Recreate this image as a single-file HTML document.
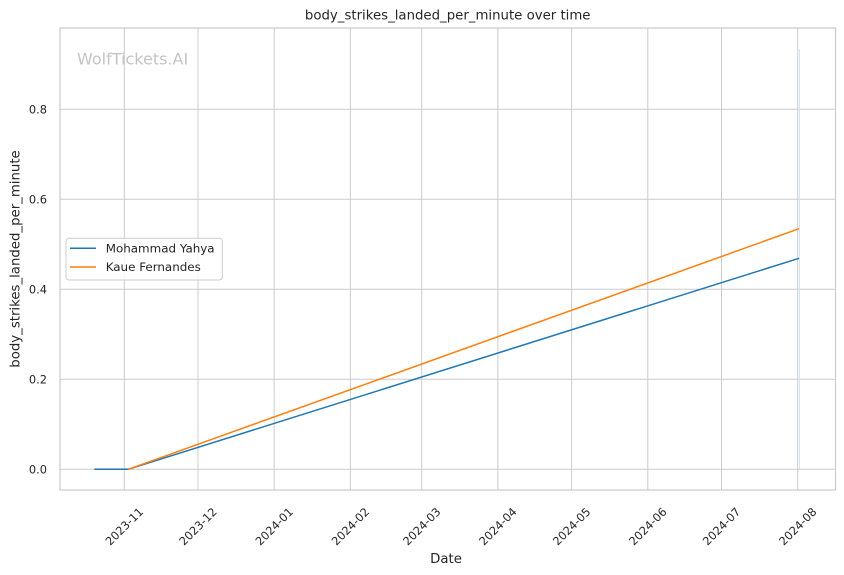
<!DOCTYPE html>
<html>
<head>
<meta charset="utf-8">
<style>
html,body{margin:0;padding:0;background:#fff;}
svg{display:block;}
text{font-family:"DejaVu Sans","Liberation Sans",sans-serif;fill:#262626;}
</style>
</head>
<body>
<svg width="844" height="575" viewBox="0 0 844 575" xmlns="http://www.w3.org/2000/svg">
<rect x="0" y="0" width="844" height="575" fill="#fff"/>
<!-- gridlines -->
<g stroke="#cccccc" stroke-width="1" fill="none">
<line x1="60" y1="109.3" x2="835.5" y2="109.3"/>
<line x1="60" y1="199.3" x2="835.5" y2="199.3"/>
<line x1="60" y1="289.3" x2="835.5" y2="289.3"/>
<line x1="60" y1="379.3" x2="835.5" y2="379.3"/>
<line x1="60" y1="469.3" x2="835.5" y2="469.3"/>
<line x1="124.3" y1="28" x2="124.3" y2="490"/>
<line x1="198.0" y1="28" x2="198.0" y2="490"/>
<line x1="274.2" y1="28" x2="274.2" y2="490"/>
<line x1="350.4" y1="28" x2="350.4" y2="490"/>
<line x1="421.7" y1="28" x2="421.7" y2="490"/>
<line x1="497.9" y1="28" x2="497.9" y2="490"/>
<line x1="571.6" y1="28" x2="571.6" y2="490"/>
<line x1="647.8" y1="28" x2="647.8" y2="490"/>
<line x1="721.5" y1="28" x2="721.5" y2="490"/>
<line x1="797.7" y1="28" x2="797.7" y2="490"/>
</g>
<!-- watermark -->
<text x="77" y="64.7" font-size="16" style="fill:#c4c4c4">WolfTickets.AI</text>
<!-- pale vertical line -->
<line x1="799.5" y1="49" x2="799.5" y2="469" stroke="#d4e5f3" stroke-width="1"/>
<!-- series -->
<polyline points="94.3,469.3 128.3,469.3 799,258.3" fill="none" stroke="#1f77b4" stroke-width="1.5"/>
<polyline points="128.3,469.3 799,228.7" fill="none" stroke="#ff7f0e" stroke-width="1.5"/>
<!-- spines -->
<rect x="60" y="28" width="775.5" height="462" fill="none" stroke="#cccccc" stroke-width="1.25"/>
<!-- y tick labels -->
<g font-size="11.4" text-anchor="end">
<text x="47" y="109.3" dominant-baseline="central">0.8</text>
<text x="47" y="199.3" dominant-baseline="central">0.6</text>
<text x="47" y="289.3" dominant-baseline="central">0.4</text>
<text x="47" y="379.3" dominant-baseline="central">0.2</text>
<text x="47" y="469.3" dominant-baseline="central">0.0</text>
</g>
<!-- x tick labels -->
<g font-size="11.4" text-anchor="middle">
<text x="124.3" y="526.5" dominant-baseline="central" transform="rotate(-45 124.3 526.5)">2023-11</text>
<text x="198.0" y="526.5" dominant-baseline="central" transform="rotate(-45 198.0 526.5)">2023-12</text>
<text x="274.2" y="526.5" dominant-baseline="central" transform="rotate(-45 274.2 526.5)">2024-01</text>
<text x="350.4" y="526.5" dominant-baseline="central" transform="rotate(-45 350.4 526.5)">2024-02</text>
<text x="421.7" y="526.5" dominant-baseline="central" transform="rotate(-45 421.7 526.5)">2024-03</text>
<text x="497.9" y="526.5" dominant-baseline="central" transform="rotate(-45 497.9 526.5)">2024-04</text>
<text x="571.6" y="526.5" dominant-baseline="central" transform="rotate(-45 571.6 526.5)">2024-05</text>
<text x="647.8" y="526.5" dominant-baseline="central" transform="rotate(-45 647.8 526.5)">2024-06</text>
<text x="721.5" y="526.5" dominant-baseline="central" transform="rotate(-45 721.5 526.5)">2024-07</text>
<text x="797.7" y="526.5" dominant-baseline="central" transform="rotate(-45 797.7 526.5)">2024-08</text>
</g>
<!-- axis labels & title -->
<text x="446" y="563" font-size="13.3" text-anchor="middle">Date</text>
<text x="16" y="259" font-size="13.3" text-anchor="middle" dominant-baseline="central" transform="rotate(-90 16 259)">body_strikes_landed_per_minute</text>
<text x="447.7" y="19.5" font-size="13.3" text-anchor="middle">body_strikes_landed_per_minute over time</text>
<!-- legend -->
<rect x="66" y="238.3" width="156.3" height="41.7" rx="3" ry="3" fill="#ffffff" fill-opacity="0.8" stroke="#cccccc" stroke-width="1"/>
<line x1="70" y1="248.3" x2="96" y2="248.3" stroke="#1f77b4" stroke-width="1.5"/>
<line x1="70" y1="267" x2="96" y2="267" stroke="#ff7f0e" stroke-width="1.5"/>
<text x="105.7" y="248.3" font-size="11.9" dominant-baseline="central">Mohammad Yahya</text>
<text x="105.7" y="267" font-size="11.9" dominant-baseline="central">Kaue Fernandes</text>
</svg>
</body>
</html>
